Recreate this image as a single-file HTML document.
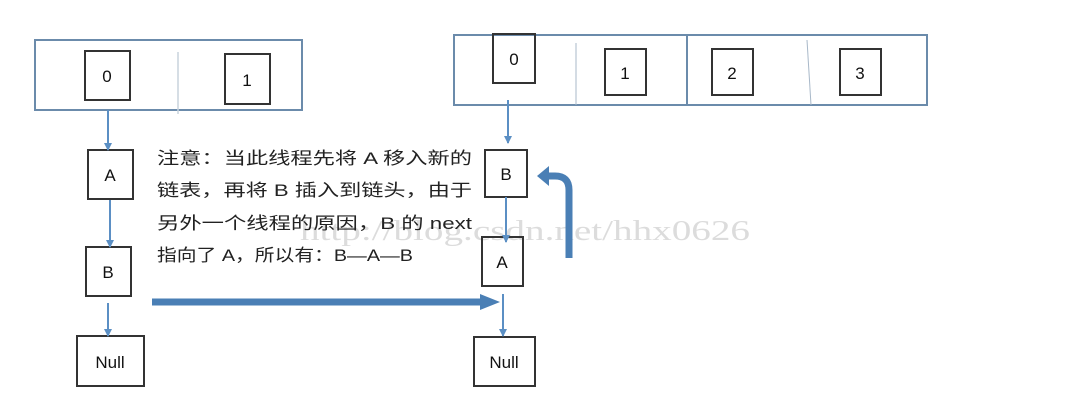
<!DOCTYPE html>
<html><head><meta charset="utf-8"><style>
html,body{margin:0;padding:0;background:#fff;width:1074px;height:405px;overflow:hidden}
svg text{font-family:"Liberation Sans","Noto Sans CJK SC",sans-serif;}
</style></head><body>
<svg width="1074" height="405" viewBox="0 0 1074 405" xmlns="http://www.w3.org/2000/svg">
<defs>
<marker id="ah" markerWidth="8" markerHeight="8" refX="7" refY="4" orient="auto" markerUnits="userSpaceOnUse">
<path d="M0,0 L8,4 L0,8 Z" fill="#5b8fc4"/></marker>
</defs>
<!-- watermark -->
<text x="300" y="240" font-size="28" fill="#dcdcdc" textLength="450" lengthAdjust="spacingAndGlyphs" style="font-family:'Liberation Serif',serif">http://blog.csdn.net/hhx0626</text>
<g fill="none" stroke-width="2">
<rect x="35" y="40" width="267" height="70" stroke="#6b8bab"/>
<line x1="178" y1="52" x2="178" y2="114" stroke="#c8d2dc" stroke-width="1.5"/>
<rect x="85" y="51" width="45" height="49" stroke="#333"/>
<rect x="225" y="54" width="45" height="50" stroke="#333"/>
<rect x="88" y="150" width="45" height="49" stroke="#333"/>
<rect x="86" y="247" width="45" height="49" stroke="#333"/>
<rect x="77" y="336" width="67" height="50" stroke="#333"/>
<rect x="454" y="35" width="473" height="70" stroke="#6b8bab"/>
<line x1="576" y1="43" x2="576" y2="105" stroke="#a8b8c8" stroke-width="1"/>
<line x1="687" y1="35" x2="687" y2="105" stroke="#6b8bab" stroke-width="2"/>
<line x1="807" y1="40" x2="811" y2="105" stroke="#a8b8c8" stroke-width="1"/>
<rect x="493" y="34" width="42" height="49" stroke="#333"/>
<rect x="605" y="49" width="41" height="46" stroke="#333"/>
<rect x="712" y="49" width="41" height="46" stroke="#333"/>
<rect x="840" y="49" width="41" height="46" stroke="#333"/>
<rect x="485" y="150" width="42" height="47" stroke="#333"/>
<rect x="482" y="237" width="41" height="49" stroke="#333"/>
<rect x="474" y="337" width="61" height="49" stroke="#333"/>
</g>
<g stroke="#5b8fc4" stroke-width="2" fill="none" marker-end="url(#ah)">
<line x1="108" y1="110" x2="108" y2="150"/>
<line x1="110" y1="200" x2="110" y2="247"/>
<line x1="108" y1="303" x2="108" y2="336"/>
<line x1="508" y1="100" x2="508" y2="143"/>
<line x1="506" y1="197" x2="506" y2="242"/>
<line x1="503" y1="294" x2="503" y2="336"/>
</g>
<line x1="152" y1="302" x2="482" y2="302" stroke="#4a7fb5" stroke-width="7"/>
<path d="M480,294 L500,302 L480,310 Z" fill="#4a7fb5"/>
<path d="M569,258 L569,190 Q569,176 555,176 L548,176" stroke="#4a7fb5" stroke-width="7" fill="none"/>
<path d="M549,166 L537,176 L549,186 Z" fill="#4a7fb5"/>
<g font-size="17" fill="#111" text-anchor="middle">
<text x="107" y="82">0</text><text x="247" y="86">1</text>
<text x="110" y="181">A</text><text x="108" y="278">B</text><text x="110" y="368">Null</text>
<text x="514" y="65">0</text><text x="625" y="79">1</text><text x="732" y="79">2</text><text x="860" y="79">3</text>
<text x="506" y="180">B</text><text x="502" y="268">A</text><text x="504" y="368">Null</text>
</g>
<g font-size="17" fill="#222">
<text x="157" y="164" textLength="315" lengthAdjust="spacingAndGlyphs">注意：当此线程先将 A 移入新的</text>
<text x="157" y="196" textLength="315" lengthAdjust="spacingAndGlyphs">链表，再将 B 插入到链头，由于</text>
<text x="157" y="229" textLength="315" lengthAdjust="spacingAndGlyphs">另外一个线程的原因，B 的 next</text>
<text x="157" y="261" textLength="256" lengthAdjust="spacingAndGlyphs">指向了 A，所以有：B—A—B</text>
</g>
</svg>
</body></html>
